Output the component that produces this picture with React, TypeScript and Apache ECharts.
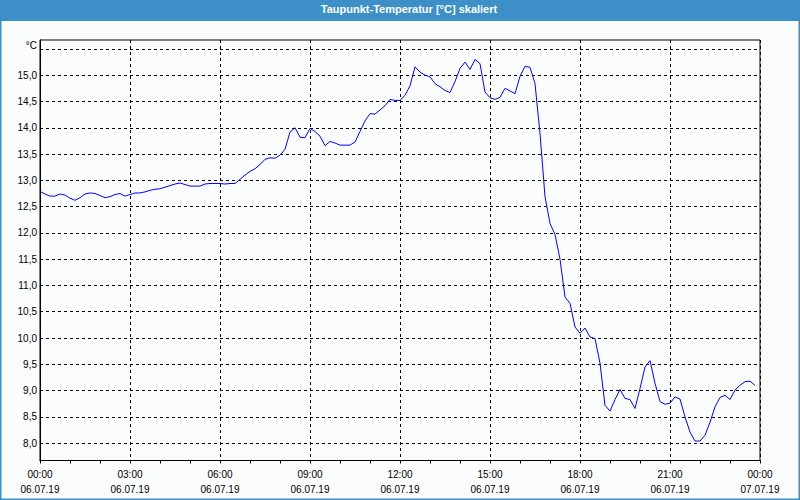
import React, { useEffect, useRef } from "react";
import * as echarts from "echarts";

const times: string[] = [
  "00:00","00:10","00:20","00:30","00:40","00:50",
  "01:00","01:10","01:20","01:30","01:40","01:50",
  "02:00","02:10","02:20","02:30","02:40","02:50",
  "03:00","03:10","03:20","03:30","03:40","03:50",
  "04:00","04:10","04:20","04:30","04:40","04:50",
  "05:00","05:10","05:20","05:30","05:40","05:50",
  "06:00","06:10","06:20","06:30","06:40","06:50",
  "07:00","07:10","07:20","07:30","07:40","07:50",
  "08:00","08:10","08:20","08:30","08:40","08:50",
  "09:00","09:10","09:20","09:30","09:40","09:50",
  "10:00","10:10","10:20","10:30","10:40","10:50",
  "11:00","11:10","11:20","11:30","11:40","11:50",
  "12:00","12:10","12:20","12:30","12:40","12:50",
  "13:00","13:10","13:20","13:30","13:40","13:50",
  "14:00","14:10","14:20","14:30","14:40","14:50",
  "15:00","15:10","15:20","15:30","15:40","15:50",
  "16:00","16:10","16:20","16:30","16:40","16:50",
  "17:00","17:10","17:20","17:30","17:40","17:50",
  "18:00","18:10","18:20","18:30","18:40","18:50",
  "19:00","19:10","19:20","19:30","19:40","19:50",
  "20:00","20:10","20:20","20:30","20:40","20:50",
  "21:00","21:10","21:20","21:30","21:40","21:50",
  "22:00","22:10","22:20","22:30","22:40","22:50",
  "23:00","23:10","23:20","23:30","23:40","23:50",
];

const dewPoint: number[] = [
  12.79, 12.74, 12.70, 12.70, 12.74, 12.72,
  12.66, 12.62, 12.67, 12.74, 12.76, 12.75,
  12.71, 12.67, 12.69, 12.73, 12.75, 12.70,
  12.73, 12.76, 12.76, 12.78, 12.81, 12.83,
  12.84, 12.87, 12.90, 12.93, 12.95, 12.92,
  12.89, 12.89, 12.89, 12.93, 12.94, 12.94,
  12.94, 12.93, 12.94, 12.94, 13.02, 13.10,
  13.17, 13.22, 13.30, 13.40, 13.43, 13.42,
  13.48, 13.59, 13.92, 14.00, 13.82, 13.81,
  13.99, 13.93, 13.84, 13.66, 13.74, 13.71,
  13.67, 13.67, 13.67, 13.73, 13.93, 14.13,
  14.27, 14.26, 14.34, 14.42, 14.54, 14.52,
  14.52, 14.62, 14.80, 15.16, 15.06, 15.00,
  14.97, 14.84, 14.78, 14.71, 14.67, 14.88,
  15.13, 15.25, 15.11, 15.30, 15.22, 14.68,
  14.57, 14.54, 14.58, 14.75, 14.70, 14.65,
  14.98, 15.17, 15.15, 14.84, 13.89, 12.69,
  12.18, 11.97, 11.50, 10.78, 10.66, 10.21,
  10.09, 10.19, 10.02, 9.99, 9.52, 8.72,
  8.61, 8.83, 9.02, 8.85, 8.83, 8.66,
  9.04, 9.45, 9.57, 9.14, 8.79, 8.74,
  8.76, 8.88, 8.84, 8.50, 8.21, 8.04,
  8.04, 8.15, 8.40, 8.69, 8.87, 8.91,
  8.83, 9.01, 9.10, 9.17, 9.18, 9.10,
];

const yTicks: number[] = [8, 8.5, 9, 9.5, 10, 10.5, 11, 11.5, 12, 12.5, 13, 13.5, 14, 14.5, 15, 15.5];
const yUnitTick = 15.5;
const yUnitLabel = "°C";
const xTickDates: string[] = ["06.07.19", "07.07.19"];
const titleText = "Taupunkt-Temperatur [°C] skaliert";

const BLUE = "#3d8fc7";
const BG = "#fbfcfc";
const FONT = "Liberation Sans, Arial, sans-serif";

function toHours(t: string): number {
  const [h, m] = t.split(":").map(Number);
  return h + m / 60;
}

export default function App() {
  const ref = useRef<HTMLDivElement>(null);
  useEffect(() => {
    if (!ref.current) return;
    const chart = echarts.init(ref.current, undefined, { renderer: "svg" });
    const data = times.map((t, i) => [toHours(t), dewPoint[i]]);
    const pad = (n: number) => (n < 10 ? "0" + n : "" + n);
    chart.setOption({
      animation: false,
      backgroundColor: BG,
      graphic: [
        { type: "rect", shape: { x: 0, y: 0, width: 800, height: 21 }, style: { fill: BLUE }, silent: true },
        {
          type: "text",
          x: 409,
          y: 9,
          style: {
            text: titleText,
            fill: "#ffffff",
            font: `bold 11px ${FONT}`,
            textAlign: "center",
            textVerticalAlign: "middle",
          },
          silent: true,
        },
        {
          type: "rect",
          shape: { x: 0.5, y: 0.5, width: 799, height: 499 },
          style: { fill: "none", stroke: BLUE, lineWidth: 2 },
          silent: true,
        },
      ],
      grid: {
        left: 40,
        right: 40,
        top: 40,
        bottom: 39.5,
        show: true,
        borderColor: "#000",
        borderWidth: 1,
        backgroundColor: "transparent",
      },
      xAxis: {
        type: "value",
        min: 0,
        max: 24,
        interval: 3,
        axisLine: { show: true, lineStyle: { color: "#000", width: 1 } },
        axisTick: { show: true, length: 3, lineStyle: { color: "#000" } },
        minorTick: { show: true, splitNumber: 3, length: 3, lineStyle: { color: "#000" } },
        splitLine: { show: true, lineStyle: { color: "#000", type: [3, 3], width: 1 } },
        axisLabel: {
          margin: 6,
          color: "#000",
          fontFamily: FONT,
          fontSize: 10,
          lineHeight: 15,
          formatter: (v: number) => `${pad(v % 24)}:00\n${v < 24 ? xTickDates[0] : xTickDates[1]}`,
        },
      },
      yAxis: {
        type: "value",
        min: 7.67,
        max: 15.67,
        axisLine: { show: true, lineStyle: { color: "#000" } },
        axisTick: { show: false, customValues: yTicks },
        splitLine: { show: true, lineStyle: { color: "#000", type: [3, 3], width: 1 } },
        axisLabel: {
          customValues: yTicks,
          margin: 3,
          color: "#000",
          fontFamily: FONT,
          fontSize: 10,
          rich: {
            u: { fontFamily: FONT, fontSize: 10, color: "#000", padding: [0, 0, 6, 0] },
          },
          formatter: (v: number) =>
            Math.abs(v - yUnitTick) < 1e-6 ? `{u|${yUnitLabel}}` : v.toFixed(1).replace(".", ","),
        },
      },
      series: [
        {
          type: "line",
          data,
          showSymbol: false,
          lineStyle: { color: "#0000ff", width: 1 },
          itemStyle: { color: "#0000ff" },
        },
      ],
    });
    return () => chart.dispose();
  }, []);
  return (
    <div
      ref={ref}
      style={{ position: "fixed", left: 0, top: 0, width: 800, height: 500 }}
    />
  );
}
